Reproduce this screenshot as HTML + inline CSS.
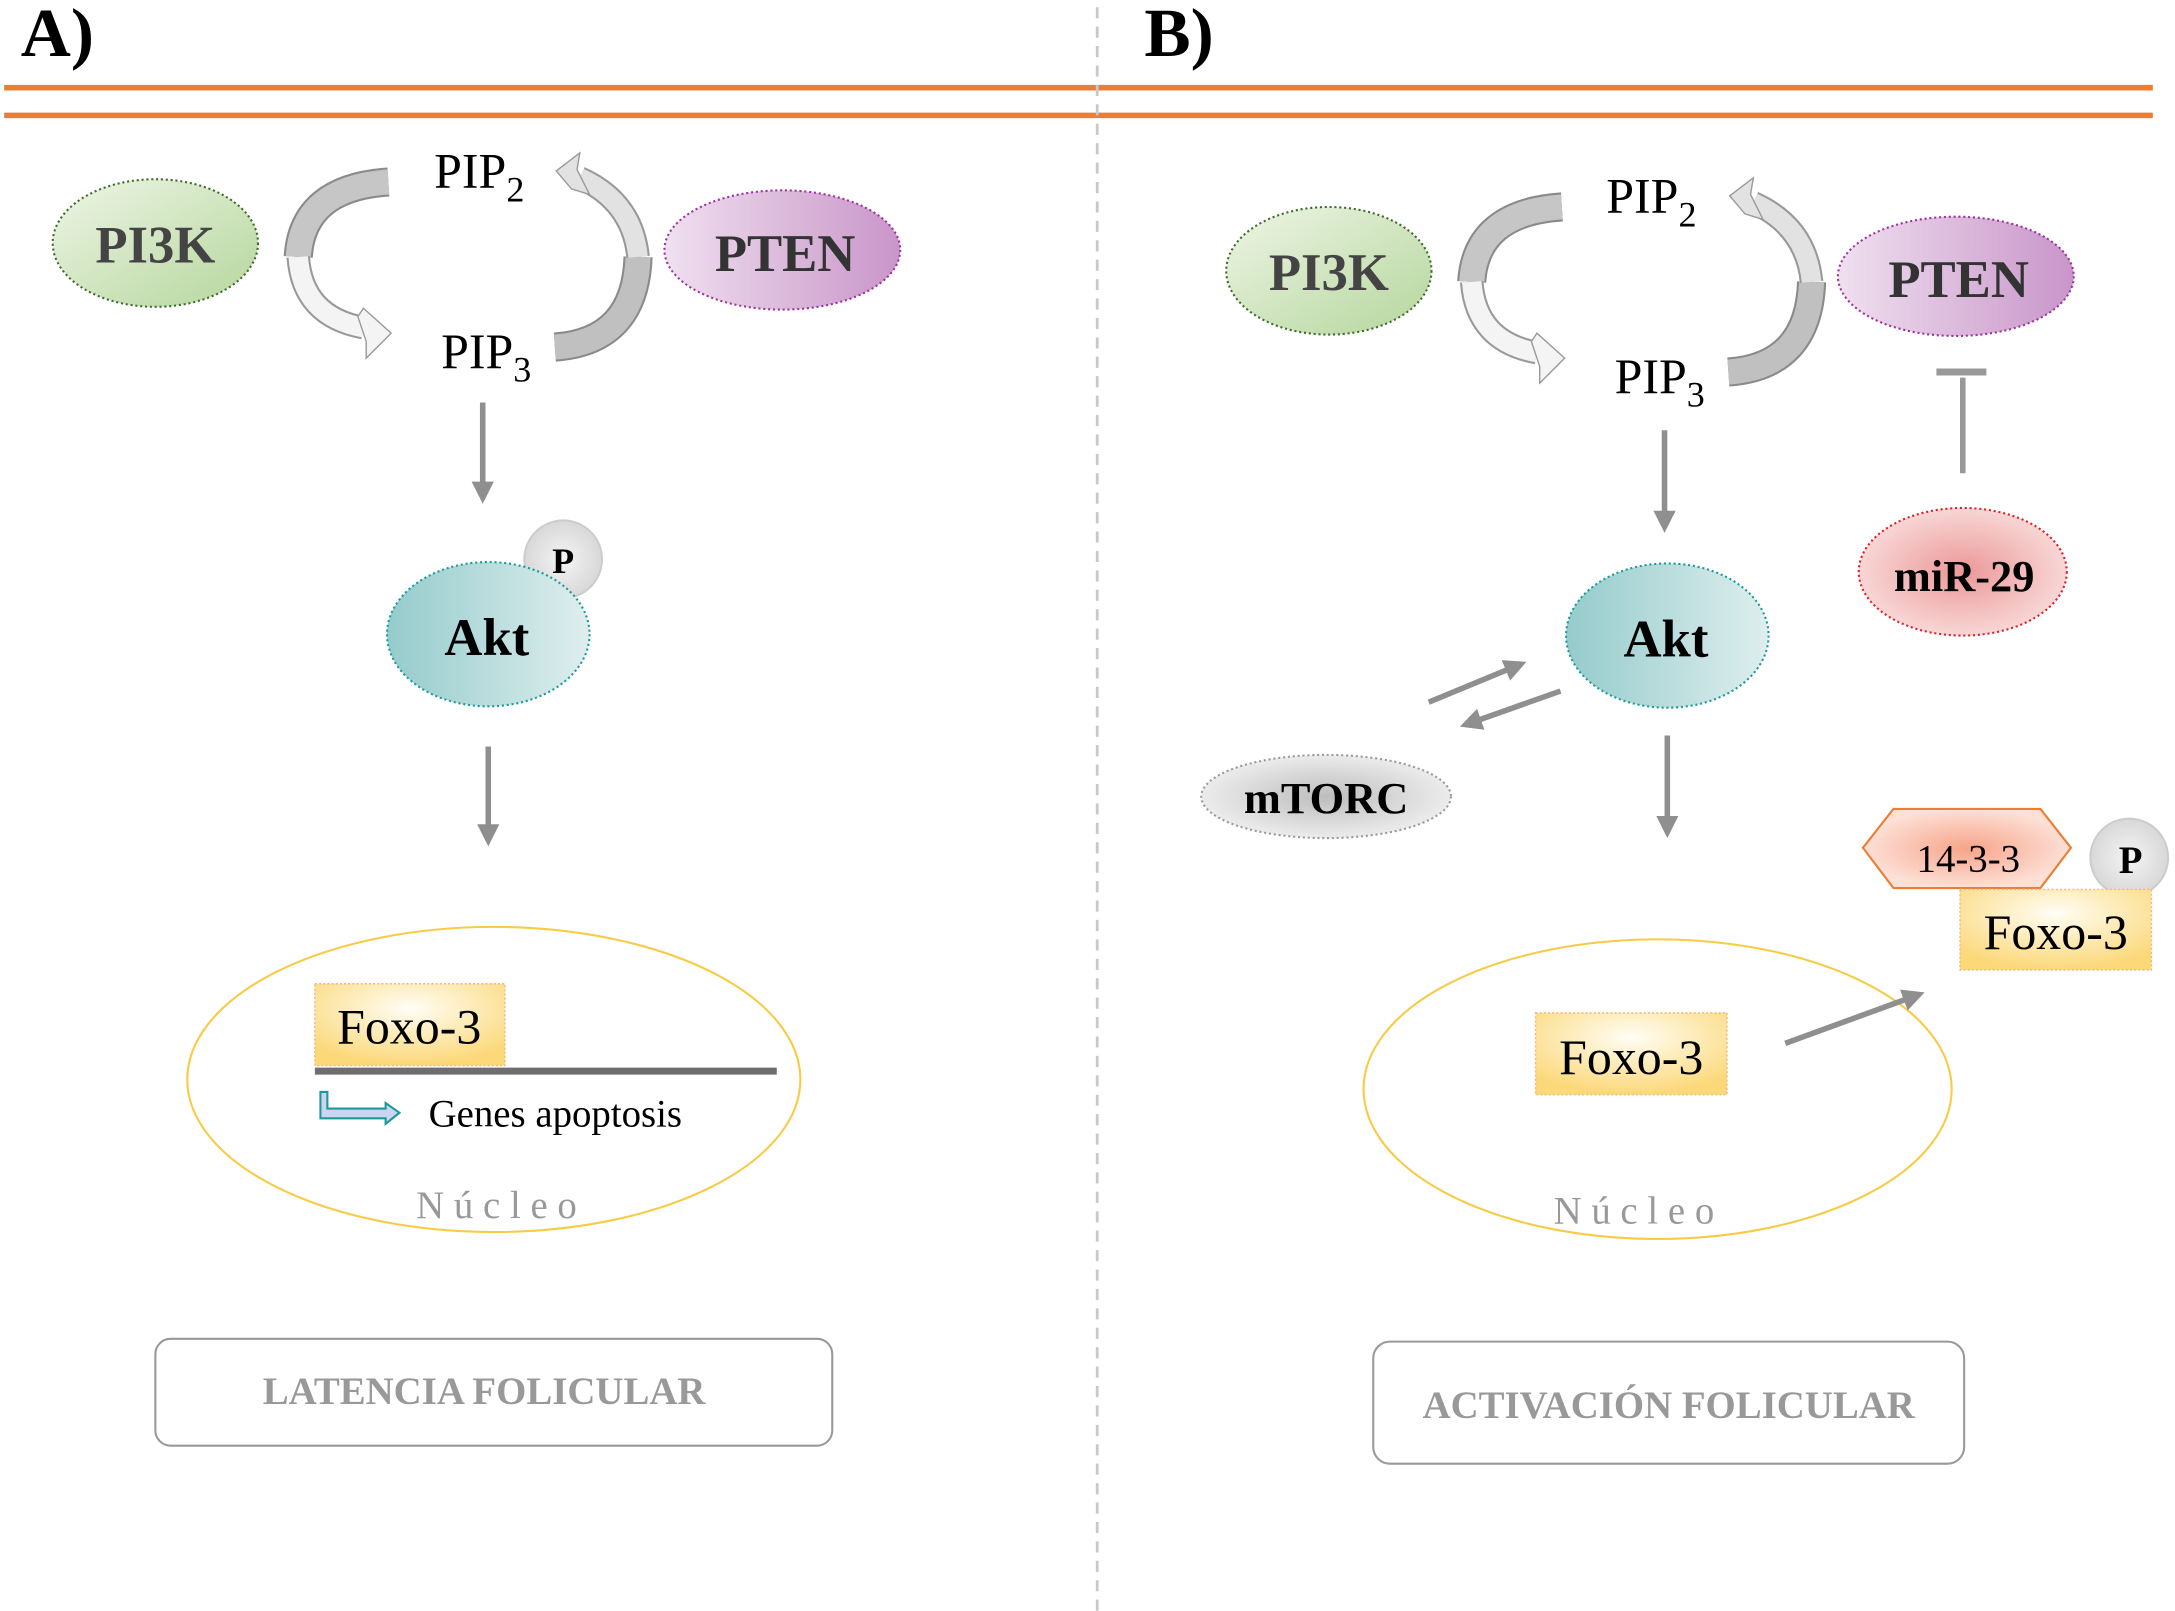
<!DOCTYPE html>
<html><head><meta charset="utf-8"><style>
html,body{margin:0;padding:0;background:#fff;}
svg{display:block;}
text{font-family:"Liberation Serif",serif;}
</style></head><body>
<svg width="2175" height="1611" viewBox="0 0 1568 1161" xmlns="http://www.w3.org/2000/svg">
<defs>
<linearGradient id="gG" x1="0" y1="0" x2="1" y2="1"><stop offset="0" stop-color="#eef5e6"/><stop offset="1" stop-color="#b5d69c"/></linearGradient>
<linearGradient id="gP" x1="0" y1="0" x2="1" y2="0"><stop offset="0" stop-color="#efe0ef"/><stop offset="1" stop-color="#c995c9"/></linearGradient>
<linearGradient id="gT" x1="0" y1="0" x2="1" y2="0"><stop offset="0" stop-color="#95cbcc"/><stop offset="1" stop-color="#dfeeee"/></linearGradient>
<radialGradient id="gR"><stop offset="0" stop-color="#ec9898"/><stop offset="1" stop-color="#f8d6d6"/></radialGradient>
<radialGradient id="gO"><stop offset="0" stop-color="#f7a48a"/><stop offset="1" stop-color="#fde0d6"/></radialGradient>
<radialGradient id="gM"><stop offset="0" stop-color="#bdbdbd"/><stop offset="1" stop-color="#ececec"/></radialGradient>
<radialGradient id="gY" cx="0.5" cy="0.3" r="0.7"><stop offset="0" stop-color="#fffdf5"/><stop offset="1" stop-color="#fbd878"/></radialGradient>
<radialGradient id="gPh"><stop offset="0" stop-color="#f4f4f4"/><stop offset="1" stop-color="#d8d8d8"/></radialGradient>
<g id="cyc">
  <path d="M280,131 Q218,135 215,185" fill="none" stroke="#8a8a8a" stroke-width="21"/>
  <path d="M280,131 Q218,135 215,185" fill="none" stroke="#c6c6c6" stroke-width="18"/>
  <path d="M215,185 Q218,228 262,236" fill="none" stroke="#999" stroke-width="17"/>
  <path d="M215,185 Q218,228 262,236" fill="none" stroke="#f4f4f4" stroke-width="14"/>
  <polygon points="262,222 282,240 264,258 264,246 258,228" fill="#f4f4f4" stroke="#999" stroke-width="1"/>
  <path d="M400,250 Q458,246 460,185" fill="none" stroke="#8a8a8a" stroke-width="21"/>
  <path d="M400,250 Q458,246 460,185" fill="none" stroke="#c0c0c0" stroke-width="18"/>
  <path d="M460,185 Q456,145 418,128" fill="none" stroke="#999" stroke-width="17"/>
  <path d="M460,185 Q456,145 418,128" fill="none" stroke="#e2e2e2" stroke-width="14"/>
  <polygon points="401,123 418,110 416,122 425,140 412,136" fill="#e2e2e2" stroke="#999" stroke-width="1"/>
</g>
<marker id="ah" markerWidth="4" markerHeight="4" refX="2" refY="2" orient="auto" markerUnits="strokeWidth"><path d="M0,0 L4,2 L0,4 Z" fill="#8f8f8f"/></marker>
</defs>

<text x="15" y="40" font-size="50" font-weight="bold">A)</text>
<text x="825" y="40" font-size="50" font-weight="bold">B)</text>
<line x1="3" y1="63" x2="1552" y2="63" stroke="#ed7d31" stroke-width="4"/>
<line x1="3" y1="83" x2="1552" y2="83" stroke="#ed7d31" stroke-width="4"/>
<line x1="791" y1="5" x2="791" y2="1161" stroke="#c8c8c8" stroke-width="2" stroke-dasharray="8,6"/>

<!-- Panel A -->
<ellipse cx="112" cy="175" rx="74" ry="46" fill="url(#gG)" stroke="#3f6b2a" stroke-width="1.5" stroke-dasharray="1.5,2"/>
<text x="112" y="189" font-size="38" font-weight="bold" fill="#444" text-anchor="middle">PI3K</text>
<ellipse cx="564" cy="180" rx="85" ry="43" fill="url(#gP)" stroke="#a030a0" stroke-width="1.5" stroke-dasharray="1.5,2"/>
<text x="566" y="195" font-size="38" font-weight="bold" fill="#333" text-anchor="middle">PTEN</text>
<use href="#cyc"/>
<text x="313" y="135" font-size="36">PIP<tspan font-size="26" dy="10">2</tspan></text>
<text x="318" y="265" font-size="36">PIP<tspan font-size="26" dy="10">3</tspan></text>
<line x1="348" y1="290" x2="348" y2="355" stroke="#8f8f8f" stroke-width="4" marker-end="url(#ah)"/>
<circle cx="406" cy="403" r="28" fill="url(#gPh)" stroke="#ccc" stroke-width="1.5"/>
<text x="406" y="413" font-size="26" font-weight="bold" text-anchor="middle">P</text>
<ellipse cx="352" cy="457" rx="73" ry="52" fill="url(#gT)" stroke="#1a9a9a" stroke-width="1.5" stroke-dasharray="1.5,2"/>
<text x="351" y="472" font-size="38" font-weight="bold" text-anchor="middle">Akt</text>
<line x1="352" y1="538" x2="352" y2="602" stroke="#8f8f8f" stroke-width="4" marker-end="url(#ah)"/>
<ellipse cx="356" cy="778" rx="221" ry="110" fill="none" stroke="#f8cb45" stroke-width="1.5"/>
<rect x="227" y="709" width="137" height="59" fill="url(#gY)" stroke="#f2b880" stroke-width="1" stroke-dasharray="1.5,1.5"/>
<text x="295" y="752" font-size="36" text-anchor="middle">Foxo-3</text>
<line x1="227" y1="772" x2="560" y2="772" stroke="#6e6e6e" stroke-width="5"/>
<path d="M231,787 L236,787 L236,799 L278,799 L278,795 L288,802 L278,810 L278,806 L231,806 Z" fill="#ccd4f0" stroke="#1a9a9a" stroke-width="1.5"/>
<text x="309" y="812" font-size="28">Genes apoptosis</text>
<text x="300" y="878" font-size="28" fill="#999" letter-spacing="7">Núcleo</text>
<rect x="112" y="965" width="488" height="77" rx="11" fill="none" stroke="#999" stroke-width="1.5"/>
<text x="349" y="1012" font-size="28" font-weight="bold" fill="#999" text-anchor="middle">LATENCIA FOLICULAR</text>

<!-- Panel B -->
<ellipse cx="958" cy="195" rx="74" ry="46" fill="url(#gG)" stroke="#3f6b2a" stroke-width="1.5" stroke-dasharray="1.5,2"/>
<text x="958" y="209" font-size="38" font-weight="bold" fill="#444" text-anchor="middle">PI3K</text>
<ellipse cx="1410" cy="199" rx="85" ry="43" fill="url(#gP)" stroke="#a030a0" stroke-width="1.5" stroke-dasharray="1.5,2"/>
<text x="1412" y="214" font-size="38" font-weight="bold" fill="#333" text-anchor="middle">PTEN</text>
<use href="#cyc" transform="translate(846,18)"/>
<text x="1158" y="153" font-size="36">PIP<tspan font-size="26" dy="10">2</tspan></text>
<text x="1164" y="283" font-size="36">PIP<tspan font-size="26" dy="10">3</tspan></text>
<line x1="1200" y1="310" x2="1200" y2="376" stroke="#8f8f8f" stroke-width="4" marker-end="url(#ah)"/>
<line x1="1396" y1="268" x2="1432" y2="268" stroke="#999" stroke-width="5"/>
<line x1="1415" y1="272" x2="1415" y2="341" stroke="#999" stroke-width="4"/>
<ellipse cx="1415" cy="412" rx="75" ry="46" fill="url(#gR)" stroke="#e02020" stroke-width="1.5" stroke-dasharray="1.5,2"/>
<text x="1416" y="426" font-size="32" font-weight="bold" text-anchor="middle">miR-29</text>
<ellipse cx="1202" cy="458" rx="73" ry="52" fill="url(#gT)" stroke="#1a9a9a" stroke-width="1.5" stroke-dasharray="1.5,2"/>
<text x="1201" y="473" font-size="38" font-weight="bold" text-anchor="middle">Akt</text>
<line x1="1030" y1="506" x2="1093" y2="480" stroke="#8f8f8f" stroke-width="4" marker-end="url(#ah)"/>
<line x1="1125" y1="498" x2="1060" y2="521" stroke="#8f8f8f" stroke-width="4" marker-end="url(#ah)"/>
<ellipse cx="956" cy="574" rx="90" ry="30" fill="url(#gM)" stroke="#999" stroke-width="1.5" stroke-dasharray="1.5,2"/>
<text x="956" y="586" font-size="32" font-weight="bold" text-anchor="middle">mTORC</text>
<line x1="1202" y1="530" x2="1202" y2="596" stroke="#8f8f8f" stroke-width="4" marker-end="url(#ah)"/>
<polygon points="1343,611 1365,583 1471,583 1493,611 1471,640 1365,640" fill="url(#gO)" stroke="#ed7d31" stroke-width="1.5"/>
<text x="1419" y="628" font-size="28" text-anchor="middle">14-3-3</text>
<circle cx="1535" cy="618" r="28" fill="url(#gPh)" stroke="#ccc" stroke-width="1.5"/>
<text x="1536" y="629" font-size="28" font-weight="bold" text-anchor="middle">P</text>
<rect x="1413" y="641" width="138" height="58" fill="url(#gY)" stroke="#f2b880" stroke-width="1" stroke-dasharray="1.5,1.5"/>
<text x="1482" y="684" font-size="36" text-anchor="middle">Foxo-3</text>
<ellipse cx="1195" cy="785" rx="212" ry="108" fill="none" stroke="#f8cb45" stroke-width="1.5"/>
<rect x="1107" y="730" width="138" height="59" fill="url(#gY)" stroke="#f2b880" stroke-width="1" stroke-dasharray="1.5,1.5"/>
<text x="1176" y="774" font-size="36" text-anchor="middle">Foxo-3</text>
<line x1="1287" y1="752" x2="1380" y2="718" stroke="#8f8f8f" stroke-width="4" marker-end="url(#ah)"/>
<text x="1120" y="882" font-size="28" fill="#999" letter-spacing="7">Núcleo</text>
<rect x="990" y="967" width="426" height="88" rx="12" fill="none" stroke="#999" stroke-width="1.5"/>
<text x="1203" y="1022" font-size="28" font-weight="bold" fill="#999" text-anchor="middle">ACTIVACIÓN FOLICULAR</text>
</svg>
</body></html>
